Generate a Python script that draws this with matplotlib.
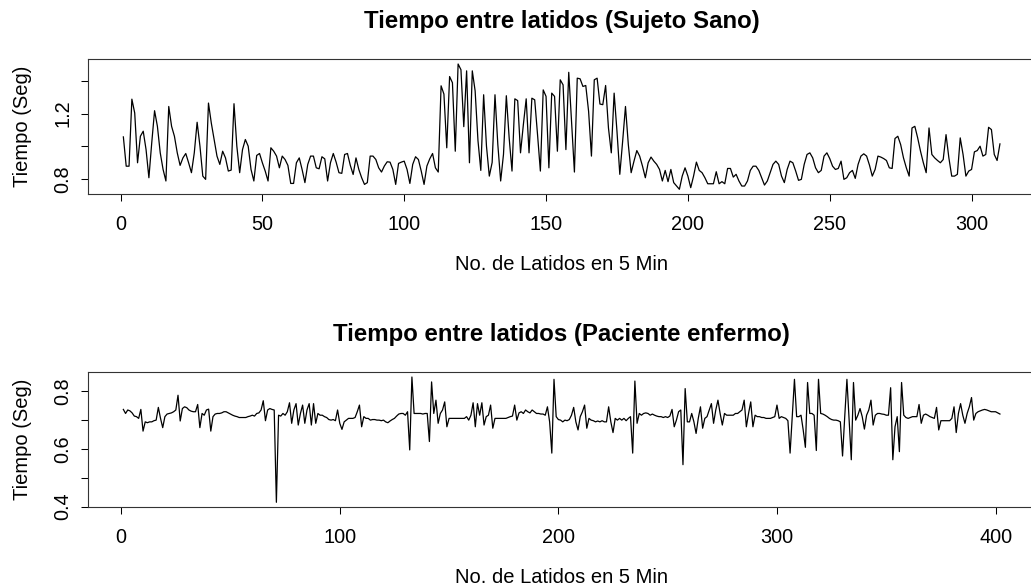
import matplotlib
matplotlib.use("Agg")
import matplotlib.pyplot as plt
import numpy as np

plt.rcParams["font.family"] = "Liberation Sans"

# RR intervals (seconds), healthy subject: 310 beats in 5 minutes
sano = [
    1.057, 0.877, 0.877, 1.289, 1.204, 0.898, 1.061, 1.092, 0.979, 0.806,
    1.020, 1.218, 1.122, 0.959, 0.857, 0.786, 1.244, 1.122, 1.061, 0.959,
    0.882, 0.928, 0.955, 0.898, 0.837, 0.959, 1.147, 1.000, 0.816, 0.796,
    1.265, 1.142, 1.041, 0.939, 0.888, 0.969, 0.928, 0.847, 0.853, 1.261,
    1.000, 0.837, 0.979, 1.041, 1.000, 0.857, 0.786, 0.943, 0.955, 0.898,
    0.847, 0.786, 0.990, 0.969, 0.939, 0.867, 0.939, 0.918, 0.882, 0.771,
    0.771, 0.898, 0.928, 0.857, 0.776, 0.888, 0.939, 0.939, 0.867, 0.861,
    0.935, 0.922, 0.786, 0.898, 0.955, 0.902, 0.837, 0.833, 0.949, 0.955,
    0.882, 0.826, 0.928, 0.857, 0.806, 0.765, 0.776, 0.939, 0.939, 0.918,
    0.867, 0.841, 0.878, 0.904, 0.902, 0.857, 0.765, 0.894, 0.902, 0.908,
    0.857, 0.771, 0.888, 0.935, 0.918, 0.847, 0.765, 0.878, 0.922, 0.955,
    0.867, 0.841, 1.371, 1.320, 0.990, 1.428, 1.390, 0.969, 1.505, 1.470,
    1.120, 1.463, 0.898, 1.463, 1.340, 1.035, 0.851, 1.316, 1.000, 0.816,
    0.900, 1.316, 1.010, 0.786, 0.950, 1.310, 1.050, 0.847, 1.291, 1.280,
    0.959, 1.132, 1.291, 0.959, 1.295, 1.285, 1.071, 0.847, 1.346, 1.306,
    0.867, 1.326, 1.306, 0.969, 1.408, 1.377, 0.979, 1.454, 1.153, 0.841,
    1.418, 1.414, 1.367, 1.373, 1.214, 0.939, 1.408, 1.418, 1.259, 1.255,
    1.373, 1.112, 0.959, 1.326, 1.092, 0.827, 1.030, 1.244, 1.010, 0.837,
    0.908, 0.973, 0.939, 0.877, 0.806, 0.898, 0.933, 0.908, 0.888, 0.857,
    0.786, 0.851, 0.782, 0.857, 0.776, 0.755, 0.735, 0.816, 0.867, 0.816,
    0.745, 0.816, 0.902, 0.851, 0.837, 0.806, 0.769, 0.769, 0.769, 0.843,
    0.769, 0.782, 0.769, 0.863, 0.863, 0.810, 0.827, 0.786, 0.755, 0.755,
    0.786, 0.851, 0.877, 0.877, 0.851, 0.806, 0.761, 0.786, 0.837, 0.888,
    0.908, 0.888, 0.816, 0.776, 0.857, 0.908, 0.898, 0.847, 0.790, 0.796,
    0.888, 0.949, 0.959, 0.928, 0.867, 0.837, 0.851, 0.939, 0.959, 0.924,
    0.877, 0.857, 0.863, 0.908, 0.796, 0.806, 0.837, 0.851, 0.802, 0.888,
    0.939, 0.953, 0.939, 0.884, 0.816, 0.857, 0.939, 0.933, 0.924, 0.912,
    0.867, 0.863, 1.047, 1.061, 1.010, 0.928, 0.867, 0.816, 1.112, 1.122,
    1.051, 0.969, 0.898, 0.837, 1.112, 0.949, 0.928, 0.912, 0.898, 0.918,
    1.071, 0.928, 0.816, 0.816, 0.827, 1.051, 0.949, 0.816, 0.847, 0.857,
    0.965, 0.973, 1.000, 0.939, 0.949, 1.116, 1.102, 0.949, 0.912, 1.014,
]

# RR intervals (seconds), sick patient: 402 beats in 5 minutes
enfermo = [
    0.736, 0.722, 0.734, 0.731, 0.724, 0.713, 0.711, 0.705, 0.736, 0.661,
    0.693, 0.690, 0.693, 0.693, 0.697, 0.699, 0.743, 0.705, 0.673, 0.711,
    0.720, 0.722, 0.724, 0.728, 0.734, 0.785, 0.696, 0.739, 0.745, 0.742,
    0.734, 0.730, 0.728, 0.728, 0.753, 0.673, 0.722, 0.716, 0.734, 0.737,
    0.661, 0.711, 0.720, 0.722, 0.722, 0.724, 0.728, 0.728, 0.724, 0.720,
    0.716, 0.713, 0.711, 0.708, 0.708, 0.708, 0.708, 0.711, 0.713, 0.716,
    0.713, 0.722, 0.724, 0.734, 0.766, 0.697, 0.734, 0.739, 0.736, 0.734,
    0.415, 0.716, 0.713, 0.722, 0.716, 0.728, 0.759, 0.688, 0.734, 0.756,
    0.682, 0.722, 0.751, 0.688, 0.734, 0.756, 0.682, 0.756, 0.688, 0.722,
    0.716, 0.716, 0.711, 0.708, 0.701, 0.699, 0.701, 0.697, 0.734, 0.688,
    0.667, 0.693, 0.699, 0.705, 0.705, 0.705, 0.708, 0.728, 0.751, 0.676,
    0.711, 0.705, 0.705, 0.699, 0.701, 0.701, 0.699, 0.699, 0.697, 0.699,
    0.693, 0.690, 0.696, 0.701, 0.705, 0.713, 0.720, 0.722, 0.722, 0.716,
    0.728, 0.596, 0.848, 0.722, 0.722, 0.722, 0.722, 0.720, 0.722, 0.722,
    0.625, 0.831, 0.722, 0.768, 0.688, 0.722, 0.734, 0.762, 0.676, 0.705,
    0.705, 0.705, 0.705, 0.705, 0.705, 0.705, 0.705, 0.711, 0.699, 0.716,
    0.759, 0.676, 0.756, 0.716, 0.759, 0.682, 0.711, 0.716, 0.751, 0.671,
    0.705, 0.705, 0.705, 0.705, 0.705, 0.705, 0.708, 0.711, 0.713, 0.751,
    0.699, 0.724, 0.728, 0.722, 0.734, 0.728, 0.724, 0.734, 0.728, 0.722,
    0.722, 0.720, 0.720, 0.716, 0.745, 0.693, 0.585, 0.840, 0.711, 0.701,
    0.699, 0.693, 0.699, 0.697, 0.701, 0.716, 0.743, 0.693, 0.665, 0.711,
    0.728, 0.751, 0.671, 0.705, 0.699, 0.697, 0.693, 0.696, 0.693, 0.697,
    0.693, 0.693, 0.745, 0.693, 0.656, 0.705, 0.699, 0.705, 0.699, 0.705,
    0.697, 0.705, 0.711, 0.585, 0.834, 0.688, 0.722, 0.716, 0.722, 0.724,
    0.722, 0.716, 0.720, 0.716, 0.713, 0.711, 0.711, 0.708, 0.711, 0.708,
    0.713, 0.736, 0.676, 0.699, 0.728, 0.734, 0.545, 0.808, 0.693, 0.693,
    0.722, 0.693, 0.653, 0.705, 0.745, 0.671, 0.705, 0.711, 0.734, 0.756,
    0.688, 0.734, 0.768, 0.722, 0.682, 0.722, 0.716, 0.716, 0.716, 0.716,
    0.722, 0.722, 0.728, 0.734, 0.768, 0.676, 0.722, 0.762, 0.676, 0.716,
    0.711, 0.711, 0.708, 0.708, 0.705, 0.705, 0.705, 0.708, 0.711, 0.751,
    0.705, 0.711, 0.708, 0.705, 0.697, 0.585, 0.711, 0.840, 0.711, 0.711,
    0.716, 0.665, 0.605, 0.829, 0.722, 0.722, 0.716, 0.594, 0.840, 0.722,
    0.720, 0.716, 0.711, 0.705, 0.701, 0.699, 0.699, 0.697, 0.693, 0.575,
    0.711, 0.840, 0.699, 0.562, 0.829, 0.699, 0.716, 0.739, 0.711, 0.668,
    0.716, 0.734, 0.768, 0.682, 0.716, 0.722, 0.722, 0.720, 0.719, 0.716,
    0.716, 0.811, 0.562, 0.676, 0.711, 0.590, 0.829, 0.716, 0.708, 0.705,
    0.708, 0.711, 0.711, 0.711, 0.753, 0.688, 0.716, 0.720, 0.716, 0.711,
    0.708, 0.705, 0.743, 0.665, 0.697, 0.697, 0.697, 0.697, 0.697, 0.705,
    0.745, 0.656, 0.722, 0.756, 0.716, 0.688, 0.722, 0.745, 0.777, 0.699,
    0.722, 0.728, 0.731, 0.734, 0.736, 0.734, 0.731, 0.728, 0.728, 0.728,
    0.724, 0.720,
]

paneles = [
    ("Tiempo entre latidos (Sujeto Sano)", sano,
     [0, 50, 100, 150, 200, 250, 300],
     [0.8, 1.0, 1.2, 1.4], ["0.8", "", "1.2", ""]),
    ("Tiempo entre latidos (Paciente enfermo)", enfermo,
     [0, 100, 200, 300, 400],
     [0.4, 0.5, 0.6, 0.7, 0.8], ["0.4", "", "0.6", "", "0.8"]),
]

W, H = 1031, 588
fig = plt.figure(figsize=(W / 100, H / 100), dpi=100)

# plot boxes in pixels (left, top, right, bottom); right edge runs off the canvas
cajas = [(88.3, 59, 1035, 194.3), (88.3, 372, 1035, 507.3)]

for (titulo, serie, xt, yt, ytl), (l, t, r, b) in zip(paneles, cajas):
    ax = fig.add_axes([l / W, 1 - b / H, (r - l) / W, (b - t) / H])
    x = np.arange(1, len(serie) + 1)
    ax.plot(x, serie, color="black", lw=0.9)
    ax.margins(x=0.04, y=0.04)
    ax.set_xticks(xt)
    ax.set_xticklabels([str(v) for v in xt])
    ax.set_yticks(yt)
    ax.set_yticklabels(ytl, rotation=90, va="center")
    ax.tick_params(axis="both", direction="out", length=5.2, width=0.75,
                   labelsize=14.3, color="black")
    ax.tick_params(axis="x", pad=9.5)
    ax.tick_params(axis="y", pad=6.5)
    for sp in ax.spines.values():
        sp.set_linewidth(0.8)
        sp.set_color("#333333")

    cx = (l + r) / 2
    fig.text(cx / W, 1 - (t - 30.7) / H, titulo, ha="center", va="baseline",
             fontsize=17.3, fontweight="bold")
    fig.text(cx / W, 1 - (b + 75.7) / H, "No. de Latidos en 5 Min",
             ha="center", va="baseline", fontsize=14.5)
    fig.text(23 / W, 1 - ((t + b) / 2) / H, "Tiempo (Seg)", rotation=90,
             ha="center", va="center", fontsize=14.5)

fig.savefig("out.png", dpi=100)
